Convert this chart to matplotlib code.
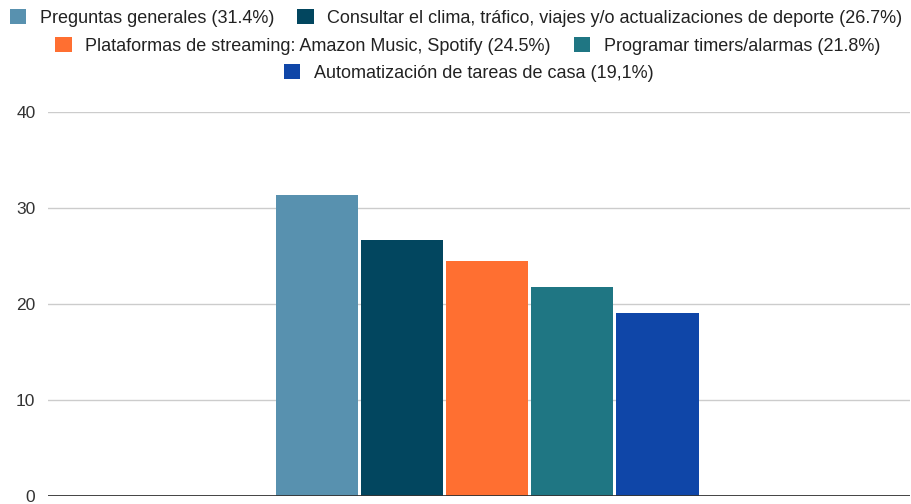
import matplotlib.pyplot as plt
from matplotlib.patches import Patch

labels = [
    "Preguntas generales (31.4%)",
    "Consultar el clima, tráfico, viajes y/o actualizaciones de deporte (26.7%)",
    "Plataformas de streaming: Amazon Music, Spotify (24.5%)",
    "Programar timers/alarmas (21.8%)",
    "Automatización de tareas de casa (19,1%)",
]
values = [31.4, 26.7, 24.5, 21.8, 19.1]
colors = ["#5891AF", "#02465F", "#FF6F31", "#1F7683", "#0F46A8"]
yticks = [0, 10, 20, 30, 40]

plt.rcParams['font.family'] = ['Liberation Sans', 'DejaVu Sans']

fig = plt.figure(figsize=(9.12, 5.04), dpi=100)
ax = fig.add_axes([0.0526, 0.0159, 0.9454, 0.7619])

for i, (v, c) in enumerate(zip(values, colors)):
    ax.bar(i, v, width=0.965, color=c, zorder=3)

ax.set_xlim(-3.165, 6.97)
ax.set_ylim(0, 40)
ax.set_yticks(yticks)
ax.set_xticks([])
ax.grid(axis='y', color='#cccccc', linewidth=1, zorder=0)
ax.axhline(0, color='#333333', linewidth=2, zorder=4)
for s in ax.spines.values():
    s.set_visible(False)
ax.tick_params(axis='y', length=0, pad=9, labelsize=12.5, labelcolor='#333333')

# legend rows: 2, 2, 1 entries
rows = [[0, 1], [2, 3], [4]]
ys = [0.964, 0.909, 0.855]
xs = [0.5, 0.513, 0.514]
for row, x, y in zip(rows, xs, ys):
    handles = [Patch(facecolor=colors[i], edgecolor='none') for i in row]
    fig.legend(handles, [labels[i] for i in row], loc='center', bbox_to_anchor=(x, y),
               ncol=len(row), frameon=False, fontsize=13, handlelength=0.9,
               handleheight=0.9, handletextpad=0.75, columnspacing=1.3,
               borderpad=0, labelcolor='#222222')

fig.savefig('out.png', dpi=100)
